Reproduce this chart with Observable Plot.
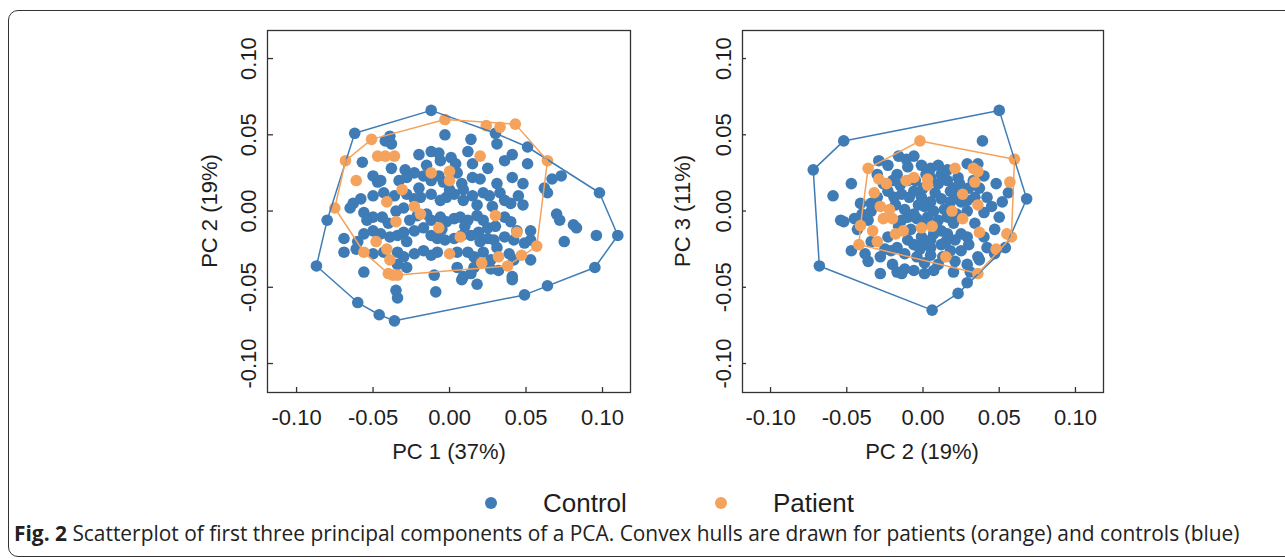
<!DOCTYPE html>
<html>
<head>
<meta charset="utf-8">
<script src="https://cdn.jsdelivr.net/npm/d3@7"></script>
<script src="https://cdn.jsdelivr.net/npm/@observablehq/plot@0.6"></script>
<style>
  html, body { margin: 0; padding: 0; background: #fff; }
  body { width: 1285px; height: 559px; position: relative; overflow: hidden; font-family: "Liberation Sans", Arial, sans-serif; color: #1e1e1e; }
  .abs { position: absolute; white-space: nowrap; }
  .title { font-size: 22px; transform: translate(-50%, -50%); }
  .ytitle { font-size: 22px; transform: translate(-50%, -50%) rotate(-90deg); }
  .legend { font-size: 26px; transform: translateY(-50%); }
  .ldot { width: 12px; height: 12px; border-radius: 50%; transform: translate(-50%, -50%); }
  .caption { font-family: "Open Sans", "Noto Sans", sans-serif; font-size: 20.9px; color: #222; transform: translateY(-50%); }
</style>
</head>
<body>
<div class="abs" style="left:8px;top:10px;width:1300px;height:545px;border:1.5px solid #333;border-radius:10px;"></div>
<div id="panelA" class="abs" style="left:180px;top:0;"></div>
<div id="panelB" class="abs" style="left:660px;top:0;"></div>
<div id="titles"></div>
<script>
// ---------- data ----------
const tickValues = [-0.10, -0.05, 0.00, 0.05, 0.10];
const groups = ["Control", "Patient"];
const colors = ["#3f7cb6", "#f4a25c"];
const axisTitlesA = ["PC 1 (37%)", "PC 2 (19%)"];
const axisTitlesB = ["PC 2 (19%)", "PC 3 (11%)"];
const captionBold = "Fig. 2";
const captionText = " Scatterplot of first three principal components of a PCA. Convex hulls are drawn for patients (orange) and controls (blue)";

// Panel A: PC1 (x) vs PC2 (y)
const controlPC1PC2 = [
  [-0.062,0.051],[-0.039,0.049],[-0.042,0.046],[-0.038,0.044],[-0.003,0.050],[0.014,0.047],[0.031,0.044],[0.030,0.051],[0.051,0.042],
  [-0.057,0.032],[-0.020,0.037],[-0.012,0.039],[-0.007,0.038],[-0.006,0.033],[0.001,0.035],[0.004,0.031],[0.012,0.039],[0.015,0.031],[0.036,0.033],[0.041,0.037],[0.051,0.031],
  [-0.050,0.023],[-0.047,0.019],[-0.038,0.028],[-0.029,0.027],[-0.028,0.022],[-0.023,0.025],[-0.017,0.023],[-0.012,0.020],[-0.007,0.023],[-0.004,0.019],[0.005,0.025],[0.008,0.018],[0.020,0.021],[0.031,0.018],[0.041,0.022],[0.048,0.018],[0.062,0.015],[0.067,0.021],[0.073,0.023],
  [-0.063,0.005],[-0.058,0.008],[-0.050,0.010],[-0.043,0.012],[-0.036,0.010],[-0.028,0.011],[-0.023,0.008],[-0.019,0.009],[-0.012,0.011],[-0.006,0.007],[-0.002,0.009],[0.003,0.011],[0.009,0.014],[0.009,0.007],[0.018,0.004],[0.022,0.012],[0.026,0.010],[0.033,0.012],[0.036,0.007],[0.040,0.005],[0.045,0.010],[0.048,0.004],[0.064,0.012],
  [-0.065,0.002],[-0.056,-0.001],[-0.054,-0.006],[-0.050,-0.004],[-0.044,-0.004],[-0.035,0.000],[-0.030,0.002],[-0.026,-0.006],[-0.021,-0.003],[-0.015,-0.002],[-0.012,-0.006],[-0.006,-0.004],[-0.002,-0.007],[0.003,-0.005],[0.007,-0.004],[0.012,-0.006],[0.018,-0.003],[0.022,-0.006],[0.025,-0.011],[0.036,-0.004],[0.040,-0.007],[0.044,-0.013],[0.053,-0.013],[0.070,-0.002],[0.072,-0.006],
  [-0.069,-0.018],[-0.060,-0.020],[-0.056,-0.015],[-0.050,-0.013],[-0.045,-0.015],[-0.039,-0.017],[-0.034,-0.016],[-0.030,-0.014],[-0.023,-0.013],[-0.017,-0.011],[-0.012,-0.016],[-0.008,-0.018],[-0.003,-0.019],[0.003,-0.018],[0.008,-0.016],[0.014,-0.016],[0.019,-0.014],[0.025,-0.018],[0.029,-0.019],[0.036,-0.017],[0.042,-0.019],[0.049,-0.021],[0.053,-0.019],
  [-0.069,-0.027],[-0.061,-0.025],[-0.050,-0.028],[-0.043,-0.027],[-0.034,-0.027],[-0.030,-0.030],[-0.023,-0.028],[-0.017,-0.026],[-0.012,-0.029],[-0.008,-0.027],[0.005,-0.027],[0.012,-0.027],[0.016,-0.030],[0.022,-0.027],[0.027,-0.032],[0.031,-0.024],[0.039,-0.028],[0.042,-0.032],
  [-0.056,-0.040],[-0.034,-0.035],[-0.028,-0.037],[-0.010,-0.042],[0.005,-0.037],[0.009,-0.043],[0.016,-0.037],[0.027,-0.038],[0.041,-0.043],[0.053,-0.032],
  [-0.012,0.066],[-0.080,-0.006],[-0.087,-0.036],[-0.060,-0.060],[-0.046,-0.068],[-0.036,-0.072],[0.049,-0.055],[0.064,-0.049],[0.095,-0.037],[0.110,-0.016],[0.098,0.012],
  [-0.035,-0.052],[-0.034,-0.057],[-0.009,-0.053],[0.008,-0.045],[0.018,-0.048],[0.014,-0.041],[0.032,-0.039],[0.041,-0.045],[0.081,-0.009],[0.083,-0.011],[0.075,-0.020],[0.096,-0.016],
  [-0.045,0.020],[-0.033,0.020],[-0.020,0.015],[0.000,0.014],[0.015,0.010],[0.028,0.003],[0.010,-0.010],[-0.005,-0.012],[-0.028,-0.020],[0.030,-0.010],[-0.040,-0.008],[0.015,0.022],[0.025,0.028],[-0.015,0.030],[0.020,-0.020]
];
const patientPC1PC2 = [
  [-0.003,0.060],[0.024,0.056],[0.033,0.055],[0.043,0.057],[0.064,0.033],[0.057,-0.023],[0.047,-0.029],[0.038,-0.036],[-0.034,-0.042],[-0.040,-0.041],[-0.056,-0.027],[-0.075,0.002],[-0.068,0.033],[-0.051,0.047],
  [-0.047,0.036],[-0.042,0.036],[-0.036,0.036],[0.020,0.036],[-0.061,0.020],[-0.012,0.025],[0.000,0.026],[0.000,0.020],[-0.031,0.014],[-0.041,0.006],[-0.023,0.003],[-0.019,-0.002],[-0.035,-0.007],[-0.007,-0.011],[0.007,-0.017],[0.030,-0.003],[0.044,-0.014],[-0.048,-0.020],[-0.041,-0.025],[-0.039,-0.032],[0.000,-0.028],[0.021,-0.034],[0.032,-0.030],[-0.037,-0.042]
];

// Panel B: PC2 (x) vs PC3 (y)
const controlPC2PC3 = [
  [0.050,0.066],[-0.052,0.046],[-0.072,0.027],[-0.068,-0.036],[0.006,-0.065],[0.023,-0.054],[0.029,-0.047],[0.031,-0.040],[0.037,-0.032],[0.068,0.008],[0.039,0.046],[0.056,0.012],
  [-0.059,0.010],[-0.047,0.018],[-0.054,-0.006],[-0.052,-0.007],[-0.045,-0.005],[-0.041,0.005],[-0.034,0.000],
  [-0.029,0.033],[-0.023,0.030],[-0.016,0.036],[-0.011,0.034],[-0.006,0.036],[-0.010,0.029],[-0.017,0.024],
  [-0.001,0.030],[0.005,0.028],[0.012,0.024],[0.016,0.027],[0.005,0.022],[0.010,0.018],[0.016,0.020],[0.023,0.022],[0.029,0.031],[0.036,0.031],
  [0.048,0.018],[0.040,0.023],[0.052,0.006],[0.050,-0.004],[0.047,-0.012],[0.042,0.009],[0.029,0.007],[0.034,0.009],[0.040,-0.001],[0.045,0.003],
  [-0.023,0.013],[-0.019,0.009],[-0.014,0.011],[-0.009,0.009],[-0.006,0.013],
  [-0.001,0.009],[0.001,0.003],[0.005,0.006],[0.007,0.000],[0.012,0.008],[0.014,0.001],[0.018,0.006],[0.021,0.010],[0.025,0.006],[0.029,0.000],
  [-0.030,0.009],[-0.034,0.005],[-0.040,-0.002],[-0.036,-0.006],[-0.043,-0.012],
  [-0.014,-0.006],[-0.010,-0.004],[-0.006,-0.002],
  [0.003,-0.004],[0.010,-0.006],[0.016,-0.004],[0.012,-0.013],[0.016,-0.015],[0.007,-0.015],[0.005,-0.019],[0.012,-0.022],[0.021,-0.019],[0.025,-0.015],[0.029,-0.017],[0.034,-0.008],
  [0.040,-0.017],[0.042,-0.024],
  [-0.010,-0.019],[-0.006,-0.022],[-0.001,-0.017],[-0.017,-0.024],[-0.012,-0.028],
  [-0.023,-0.017],[-0.025,-0.025],[-0.034,-0.020],
  [-0.047,-0.026],[-0.038,-0.028],[-0.036,-0.033],[-0.021,-0.026],[-0.028,-0.030],
  [-0.004,-0.030],[0.005,-0.029],[0.001,-0.034],
  [0.010,-0.035],[0.021,-0.033],[0.025,-0.026],[0.029,-0.035],[0.036,-0.030],[0.047,-0.028],[0.054,-0.024],
  [-0.012,-0.038],[-0.006,-0.039],[0.001,-0.041],[0.007,-0.039],[-0.014,-0.041],[-0.028,-0.041],[-0.017,-0.040],
  [-0.020,0.020],[-0.015,0.017],[-0.005,0.020],[0.000,0.015],[0.002,0.024],[0.008,0.012],[0.020,0.015],[0.025,0.012],[-0.018,0.004],[-0.012,0.001],[-0.003,0.004],[0.002,-0.008],[0.008,-0.010],[0.020,-0.008],[0.022,-0.002],[0.018,-0.026],[0.013,-0.030],[-0.008,-0.012],[-0.002,-0.025],[0.030,-0.022],[-0.026,0.018],[-0.030,0.024],[0.033,0.020],[0.037,0.015],
  [-0.010,0.020],[0.010,0.030],[0.018,0.013],[-0.004,-0.005],[0.015,-0.020],[0.005,-0.024],[-0.016,-0.010],[0.030,0.015],[0.024,0.018],[-0.020,-0.035],[0.000,-0.022],[0.020,-0.040]
];
const patientPC2PC3 = [
  [-0.002,0.046],[0.060,0.034],[0.057,0.019],[0.055,-0.015],[0.058,-0.017],[0.048,-0.025],[0.036,-0.041],[-0.042,-0.022],[-0.041,-0.0095],[-0.036,0.028],
  [0.021,0.028],[0.033,0.028],[0.036,0.026],[0.034,0.019],[-0.029,0.021],[-0.024,0.018],[-0.032,0.012],[-0.011,0.020],[-0.006,0.022],[0.003,0.021],[0.003,0.017],[0.026,0.011],[0.036,0.004],[-0.028,0.003],[-0.022,0.001],[-0.026,-0.005],[-0.020,-0.005],[0.019,0.000],[0.026,-0.005],[-0.001,-0.011],[0.006,-0.010],[-0.033,-0.013],[-0.018,-0.015],[-0.013,-0.013],[-0.030,-0.020],[0.037,-0.014],[0.015,-0.030]
];

// ---------- drawing ----------
const fmt = d => d.toFixed(2);
function toRows(pairs, group) { return pairs.map(([x, y]) => ({x, y, group})); }

function panel({control, patient, xDomain, yDomain, width, marginLeft, marginRight}) {
  const ctrl = toRows(control, groups[0]);
  const pat = toRows(patient, groups[1]);
  return Plot.plot({
    width, height: 470,
    marginTop: 30, marginBottom: 78, marginLeft, marginRight,
    x: {domain: xDomain, label: null},
    y: {domain: yDomain, label: null},
    style: {fontFamily: "'Liberation Sans', Arial, sans-serif", fontSize: "22px", color: "#1e1e1e", background: "transparent", overflow: "visible"},
    marks: [
      Plot.frame({stroke: "#333", strokeWidth: 1.3}),
      Plot.tickX(tickValues, {x: d => d, stroke: "#333", strokeWidth: 1.3, insetTop: 357}),
      Plot.tickY(tickValues, {y: d => d, stroke: "#333", strokeWidth: 1.3, insetRight: 357}),
      Plot.axisX(tickValues, {tickSize: 0, tickPadding: 17, tickFormat: fmt, label: null}),
      Plot.axisY(tickValues, {tickSize: 0, tickPadding: 12, tickRotate: -90, tickFormat: fmt, label: null}),
      Plot.dot(ctrl, {x: "x", y: "y", r: 5.8, fill: colors[0], stroke: "none"}),
      Plot.dot(pat, {x: "x", y: "y", r: 5.8, fill: colors[1], stroke: "none"}),
      Plot.hull(ctrl, {x: "x", y: "y", stroke: colors[0], strokeWidth: 1.5}),
      Plot.hull(pat, {x: "x", y: "y", stroke: colors[1], strokeWidth: 1.5})
    ]
  });
}

document.getElementById("panelA").append(panel({
  control: controlPC1PC2, patient: patientPC1PC2,
  xDomain: [-0.119, 0.1183], yDomain: [-0.119, 0.1184],
  width: 470, marginLeft: 87, marginRight: 20
}));
document.getElementById("panelB").append(panel({
  control: controlPC2PC3, patient: patientPC2PC3,
  xDomain: [-0.1184, 0.1184], yDomain: [-0.119, 0.1184],
  width: 460, marginLeft: 82, marginRight: 17
}));

// titles, legend, caption
const t = document.getElementById("titles");
function add(html, cls, style) {
  const d = document.createElement("div");
  d.className = "abs " + cls;
  d.setAttribute("style", style);
  d.innerHTML = html;
  t.append(d);
}
add(axisTitlesA[0], "title", "left:449px;top:452px;");
add(axisTitlesA[1], "ytitle", "left:210px;top:211px;");
add(axisTitlesB[0], "title", "left:922px;top:452px;");
add(axisTitlesB[1], "ytitle", "left:683px;top:211px;");
add("", "ldot", `left:491px;top:503px;background:${colors[0]};`);
add(groups[0], "legend", "left:543px;top:503px;");
add("", "ldot", `left:721px;top:503px;background:${colors[1]};`);
add(groups[1], "legend", "left:773px;top:503px;");
add(`<b>${captionBold}</b>${captionText}`, "caption", "left:14px;top:533px;");
</script>
</body>
</html>
